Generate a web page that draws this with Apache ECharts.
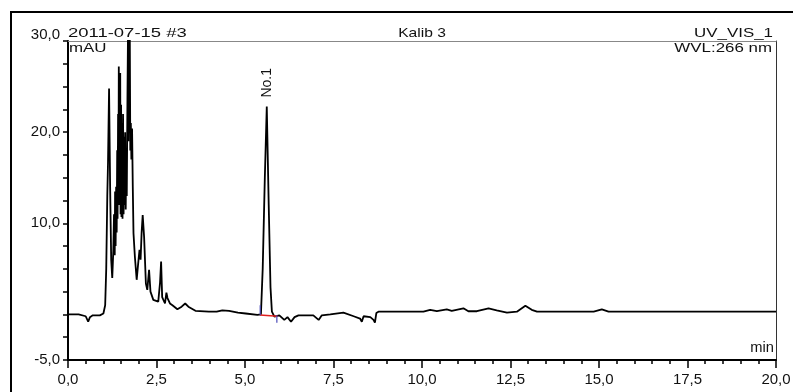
<!DOCTYPE html>
<html>
<head>
<meta charset="utf-8">
<script src="https://cdn.jsdelivr.net/npm/echarts@6/dist/echarts.min.js"></script>
<style>
  html, body { margin: 0; padding: 0; background: #fff; }
  #chart { width: 793px; height: 392px; }
</style>
</head>
<body>
<div id="chart"></div>
<script>
// retention time (min) and signal (mAU)
var times = [0, 0.3, 0.5, 0.57, 0.62, 0.7, 0.9, 1.0, 1.05, 1.08, 1.11, 1.13, 1.16, 1.19, 1.22, 1.25, 1.28, 1.30,
  1.32, 1.33, 1.345, 1.36, 1.375, 1.39, 1.40, 1.415, 1.425, 1.435, 1.445, 1.455, 1.465, 1.475, 1.485, 1.50,
  1.51, 1.525, 1.54, 1.555, 1.57, 1.585, 1.60, 1.615, 1.63, 1.645, 1.66, 1.68, 1.695, 1.705, 1.72, 1.73,
  1.745, 1.76, 1.775, 1.79, 1.81, 1.83,
  1.85, 1.89, 1.94, 1.98, 2.02, 2.05, 2.08, 2.11, 2.15, 2.20, 2.24, 2.29, 2.33, 2.41, 2.55, 2.60, 2.63, 2.66,
  2.74, 2.78, 2.81, 2.88, 2.95, 3.09, 3.21, 3.31, 3.40, 3.6, 3.98, 4.2, 4.36, 4.55, 4.8, 5.02, 5.35, 5.45,
  5.50, 5.56, 5.615, 5.67, 5.72, 5.76, 5.83, 5.97, 6.11, 6.2, 6.3, 6.4, 6.51, 6.93, 7.08, 7.17, 7.41, 7.78,
  8.07, 8.25, 8.3, 8.35, 8.54, 8.63, 8.67, 8.71, 8.77, 10.04, 10.23, 10.42, 10.7, 10.84, 11.17, 11.31, 11.55,
  11.88, 12.11, 12.4, 12.68, 12.92, 13.1, 13.25, 14.85, 15.08, 15.27, 20];
var mAU = [0.0, 0.0, -0.2, -0.8, -0.3, -0.1, -0.1, 0.1, 1.0, 5.0, 13.0, 16.6, 24.8, 14.0, 6.0, 4.0, 7.0, 11.0,
  6.5, 13.5, 7.5, 14.0, 9.0, 18.0, 10.5, 22.0, 12.0, 27.2, 13.0, 24.0, 12.0, 26.5, 11.0, 23.0,
  10.7, 21.0, 10.5, 22.0, 11.0, 19.5, 12.0, 20.0, 11.5, 18.0, 13.0, 24.0, 31.0, 19.0, 31.0, 20.0,
  31.0, 18.0, 21.0, 17.0, 20.4, 14.0,
  8.9, 6.3, 3.8, 5.5, 7.1, 6.0, 9.0, 10.9, 8.5, 3.4, 2.7, 4.9, 2.5, 1.6, 1.4, 3.5, 5.8, 1.9,
  1.2, 2.4, 1.8, 1.2, 1.0, 0.56, 0.85, 1.2, 0.85, 0.4, 0.3, 0.3, 0.45, 0.4, 0.2, 0.1, -0.05, 0.0,
  5.0, 15.0, 22.8, 12.0, 3.0, 0.3, -0.25, -0.1, -0.6, -0.3, -0.8, -0.3, -0.1, -0.1, -0.6, -0.1, 0.0, 0.2,
  -0.2, -0.45, -0.8, -0.2, -0.3, -0.6, -0.9, 0.15, 0.3, 0.3, 0.5, 0.35, 0.55, 0.4, 0.67, 0.35, 0.35,
  0.67, 0.45, 0.2, 0.3, 0.96, 0.5, 0.3, 0.3, 0.55, 0.3, 0.3];

// integrated peak: label, apex, baseline start/end
var peakName = 'No.1';
var peakApex = [5.615, 22.8];
var peakBaseline = [[5.42, -0.05], [5.92, -0.2]];
var peakStartMark = [[5.43, -0.1], [5.43, 1.0]];
var peakEndMark = [[5.9, -0.1], [5.9, -0.9]];

var yLabelValues = [30, 20, 10, -5];
var FONT = 'Liberation Sans, Arial, sans-serif';

var trace = times.map(function (t, i) { return [t, mAU[i]]; });

function comma(v) {
    return v.toFixed(1).replace('.', ',');
}

// header texts look horizontally stretched in the original
function headText(x, y, text, align, sx, size) {
    return {
        type: 'text', x: x, y: y, scaleX: sx,
        style: { text: text, font: (size || 13) + 'px ' + FONT, fill: '#111', align: align, verticalAlign: 'middle' }
    };
}

var chart = echarts.init(document.getElementById('chart'));
chart.setOption({
    animation: false,
    backgroundColor: '#fff',
    grid: { left: 68, right: 17, top: 41, bottom: 32, outerBoundsMode: 'none' },
    xAxis: [{
        type: 'value', position: 'bottom', min: 0, max: 20, interval: 2.5,
        axisLine: { onZero: false, lineStyle: { color: '#000', width: 2 } },
        axisTick: { length: 8, lineStyle: { color: '#000', width: 1.5 } },
        minorTick: { show: true, splitNumber: 5, length: 4, lineStyle: { color: '#000', width: 1.5 } },
        axisLabel: { formatter: comma, fontFamily: FONT, fontSize: 15, color: '#111', margin: 12 },
        splitLine: { show: false }
    }, {
        type: 'value', position: 'top', min: 0, max: 20,
        axisLine: { show: true, onZero: false, lineStyle: { color: '#888', width: 1 } },
        axisTick: { show: false }, axisLabel: { show: false }, splitLine: { show: false }
    }],
    yAxis: [{
        type: 'value', position: 'left', min: -5, max: 30, interval: 2.5,
        axisLine: { show: true, onZero: false, lineStyle: { color: '#000', width: 2 } },
        axisTick: { show: true, length: 5, lineStyle: { color: '#000', width: 1.5 } },
        axisLabel: {
            fontFamily: FONT, fontSize: 15, color: '#111', margin: 8,
            formatter: function (v) {
                if (yLabelValues.indexOf(v) < 0) return '';
                return v === 30 ? '{top|' + comma(v) + '}' : comma(v);
            },
            rich: { top: { fontFamily: FONT, fontSize: 15, color: '#111', padding: [0, 0, 12, 0] } }
        },
        splitLine: { show: false }
    }, {
        type: 'value', position: 'right', min: -5, max: 30,
        axisLine: { show: true, onZero: false, lineStyle: { color: '#333', width: 1 } },
        axisTick: { show: false }, axisLabel: { show: false }, splitLine: { show: false }
    }],
    graphic: [
        { type: 'polyline', shape: { points: [[11, 392], [11, 12], [793, 12]] }, style: { stroke: '#000', lineWidth: 2, fill: null } },
        headText(68, 33, '2011-07-15 #3', 'left', 1.42),
        headText(422, 33, 'Kalib 3', 'center', 1.2),
        headText(773, 33, 'UV_VIS_1', 'right', 1.3),
        headText(772, 48.5, 'WVL:266 nm', 'right', 1.3),
        headText(69, 48.5, 'mAU', 'left', 1.3),
        headText(774, 348, 'min', 'right', 1.05, 14)
    ],
    series: [{
        type: 'line', data: trace, showSymbol: false, clip: true,
        lineStyle: { color: '#000', width: 1.8 },
        markPoint: {
            symbol: 'circle', symbolSize: 0,
            data: [{ coord: peakApex, value: peakName }],
            label: {
                show: true, formatter: peakName, position: 'top', distance: 9,
                rotate: 90, align: 'left', verticalAlign: 'middle',
                fontFamily: FONT, fontSize: 14, color: '#111'
            }
        }
    }, {
        type: 'line', data: peakBaseline, showSymbol: false,
        lineStyle: { color: '#e02020', width: 1.5 }
    }, {
        type: 'line', data: peakStartMark, showSymbol: false,
        lineStyle: { color: '#4a4ab8', width: 1.2 }
    }, {
        type: 'line', data: peakEndMark, showSymbol: false,
        lineStyle: { color: '#4a4ab8', width: 1.2 }
    }]
});
</script>
</body>
</html>
